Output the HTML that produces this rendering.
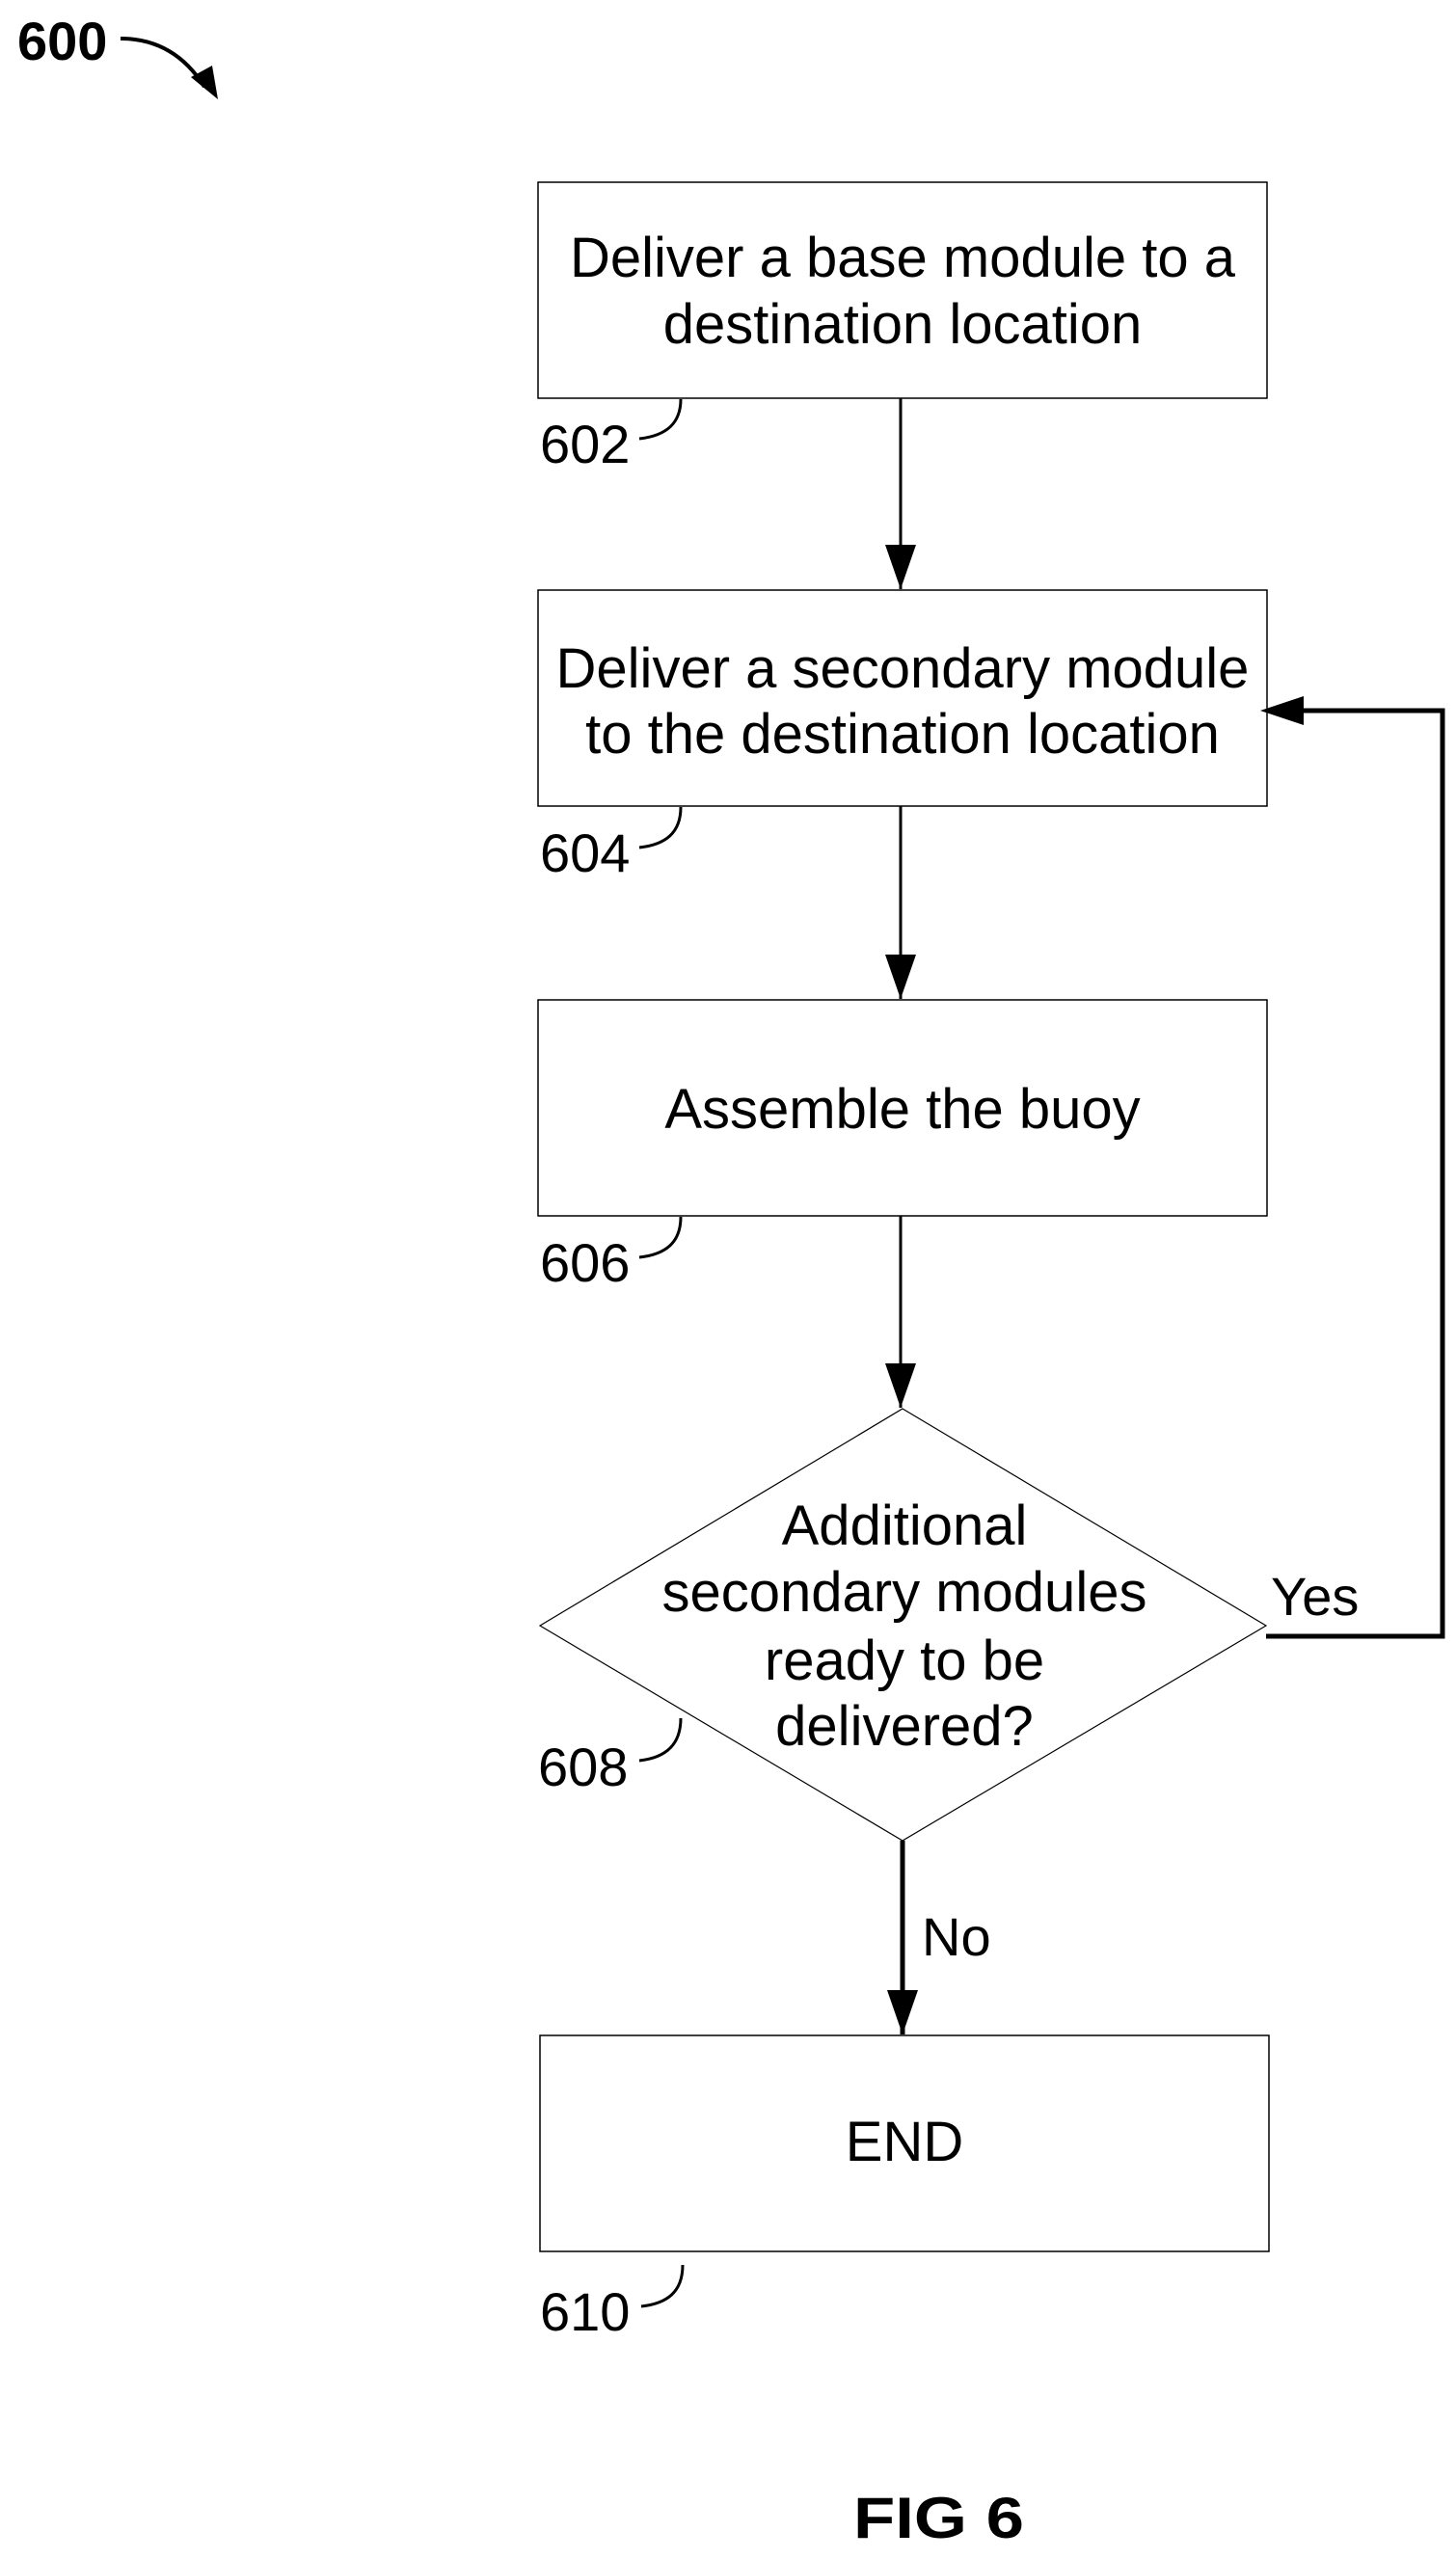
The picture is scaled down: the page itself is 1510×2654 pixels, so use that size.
<!DOCTYPE html>
<html><head><meta charset="utf-8"><style>
html,body{margin:0;padding:0;background:#fff;}
svg{display:block;}
text{font-family:"Liberation Sans",Arial,sans-serif;fill:#000;}
</style></head><body>
<svg width="1510" height="2654" viewBox="0 0 1510 2654" xmlns="http://www.w3.org/2000/svg">
<defs>
<marker id="ah" markerWidth="46" markerHeight="32" refX="46" refY="16" orient="auto" markerUnits="userSpaceOnUse">
<path d="M0,0 L46,16 L0,32 Z" fill="#000"/>
</marker>
</defs>
<!-- 600 -->
<text x="18" y="62" font-size="56" font-weight="bold">600</text>
<path d="M125,40 C160,40 190,55 212,90" stroke="#000" stroke-width="4" fill="none"/>
<path d="M198,80 L226,103 L220,68 Z" fill="#000"/>

<!-- Box 1 -->
<rect x="558" y="189" width="756" height="224" fill="none" stroke="#000" stroke-width="1.5"/>
<text x="936" y="287" font-size="58" text-anchor="middle">Deliver a base module to a</text>
<text x="936" y="356" font-size="58" text-anchor="middle">destination location</text>
<text x="560" y="480" font-size="56">602</text>
<path d="M663,455 C690,452 706,440 706,414" stroke="#000" stroke-width="3" fill="none"/>
<line x1="934" y1="413" x2="934" y2="611" stroke="#000" stroke-width="3" marker-end="url(#ah)"/>

<!-- Box 2 -->
<rect x="558" y="612" width="756" height="224" fill="none" stroke="#000" stroke-width="1.5"/>
<text x="936" y="713" font-size="58" text-anchor="middle">Deliver a secondary module</text>
<text x="936" y="781" font-size="58" text-anchor="middle">to the destination location</text>
<text x="560" y="904" font-size="56">604</text>
<path d="M663,879 C690,876 706,864 706,837" stroke="#000" stroke-width="3" fill="none"/>
<line x1="934" y1="836" x2="934" y2="1036" stroke="#000" stroke-width="3" marker-end="url(#ah)"/>

<!-- Box 3 -->
<rect x="558" y="1037" width="756" height="224" fill="none" stroke="#000" stroke-width="1.5"/>
<text x="936" y="1170" font-size="58" text-anchor="middle">Assemble the buoy</text>
<text x="560" y="1329" font-size="56">606</text>
<path d="M663,1304 C690,1301 706,1289 706,1262" stroke="#000" stroke-width="3" fill="none"/>
<line x1="934" y1="1261" x2="934" y2="1460" stroke="#000" stroke-width="3" marker-end="url(#ah)"/>

<!-- Diamond -->
<polygon points="936,1461 1313,1686 936,1909 560,1686" fill="none" stroke="#000" stroke-width="1.2"/>
<text x="938" y="1602" font-size="58" text-anchor="middle">Additional</text>
<text x="938" y="1671" font-size="58" text-anchor="middle">secondary modules</text>
<text x="938" y="1742" font-size="58" text-anchor="middle">ready to be</text>
<text x="938" y="1810" font-size="58" text-anchor="middle">delivered?</text>
<text x="558" y="1852" font-size="56">608</text>
<path d="M663,1826 C690,1823 706,1810 706,1782" stroke="#000" stroke-width="3" fill="none"/>
<text x="1318" y="1675" font-size="56">Yes</text>
<polyline points="1313,1697 1496,1697 1496,737 1352,737" fill="none" stroke="#000" stroke-width="5"/>
<path d="M1352,722 L1307,737 L1352,752 Z" fill="#000"/>
<text x="956" y="2028" font-size="56">No</text>
<line x1="936" y1="1909" x2="936" y2="2110" stroke="#000" stroke-width="5" marker-end="url(#ah)"/>

<!-- END -->
<rect x="560" y="2111" width="756" height="224" fill="none" stroke="#000" stroke-width="1.5"/>
<text x="938" y="2241" font-size="58" text-anchor="middle">END</text>
<text x="560" y="2417" font-size="56">610</text>
<path d="M665,2392 C692,2389 708,2377 708,2349" stroke="#000" stroke-width="3" fill="none"/>

<!-- FIG 6 -->
<text x="885" y="2632" font-size="60" font-weight="bold" textLength="177" lengthAdjust="spacingAndGlyphs">FIG  6</text>
</svg>
</body></html>
